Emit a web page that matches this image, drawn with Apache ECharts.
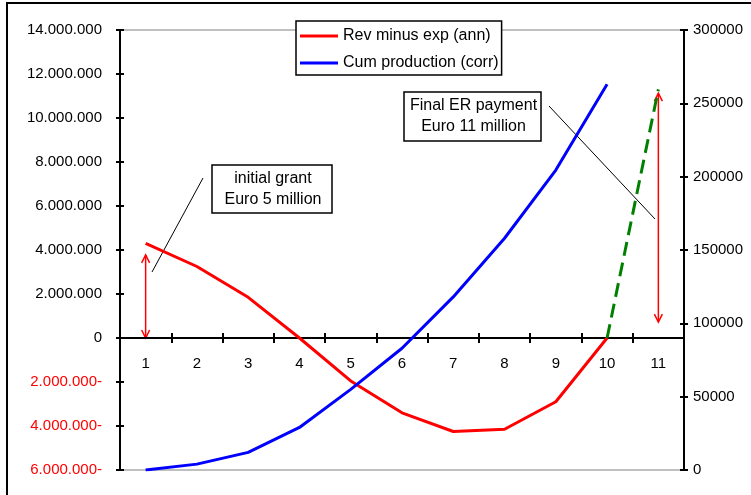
<!DOCTYPE html>
<html>
<head>
<meta charset="utf-8">
<script src="https://cdn.jsdelivr.net/npm/echarts@6/dist/echarts.min.js"></script>
<style>
html, body { margin: 0; padding: 0; background: #fff; }
#chart { width: 751px; height: 495px; }
</style>
</head>
<body>
<div id="chart"></div>
<script>
// data
var years = ['1', '2', '3', '4', '5', '6', '7', '8', '9', '10', '11'];
var revMinusExp = [4300000, 3250000, 1850000, 0, -1950000, -3400000, -4250000, -4150000, -2900000, 0, null];
var cumProduction = [0, 4000, 12000, 29000, 55000, 83000, 118000, 158000, 204500, 263000, null];
var finalPayment = [null, null, null, null, null, null, null, null, null, 0, 11300000];
var leftRange = [-6000000, 14000000, 2000000];
var rightRange = [0, 300000, 50000];
// arrows: [category, from, to] on the left axis
var grantArrow = ['1', 0, 3780000];
var paymentArrow = ['11', 720000, 11130000];

var font = '"Liberation Sans", Arial, sans-serif';

function dots(v) {
    return String(Math.abs(v)).replace(/\B(?=(\d{3})+(?!\d))/g, '.');
}

var myChart = echarts.init(document.getElementById('chart'));

var axisLine = { show: true, lineStyle: { color: '#000', width: 2 } };
var tickStyle = { color: '#000', width: 2 };

var option = {
    animation: false,
    grid: {
        left: 120, right: 67, top: 30, bottom: 25,
        outerBoundsMode: 'none',
        show: true, borderColor: '#808080', borderWidth: 1
    },
    legend: {
        data: ['Rev minus exp (ann)', 'Cum production (corr)'],
        orient: 'vertical',
        left: 296, top: 21,
        backgroundColor: '#fff',
        borderColor: '#000', borderWidth: 1.5,
        padding: [7, 3, 4, 4],
        icon: 'rect',
        itemWidth: 38, itemHeight: 3, itemGap: 11,
        textStyle: { color: '#000', fontSize: 16, fontFamily: font }
    },
    xAxis: [
        {
            // zero line with downward ticks
            type: 'category', data: years, position: 'bottom',
            axisLine: { show: true, onZero: true, onZeroAxisIndex: 0, lineStyle: { color: '#000', width: 2 } },
            axisTick: { show: true, length: 5, lineStyle: tickStyle },
            axisLabel: { show: false },
            splitLine: { show: false }
        },
        {
            // upward ticks on the zero line
            type: 'category', data: years, position: 'bottom',
            axisLine: { show: false, onZero: true, onZeroAxisIndex: 0 },
            axisTick: { show: true, inside: true, length: 5, lineStyle: tickStyle },
            axisLabel: { show: false },
            splitLine: { show: false }
        },
        {
            // category labels just under the zero line
            type: 'category', data: years, position: 'bottom',
            axisLine: { show: false, onZero: false },
            axisTick: { show: false },
            axisLabel: { margin: -114, color: '#000', fontSize: 15, fontFamily: font },
            splitLine: { show: false }
        }
    ],
    yAxis: [
        {
            type: 'value', position: 'left',
            min: leftRange[0], max: leftRange[1], interval: leftRange[2],
            axisLine: axisLine,
            axisTick: { show: true, length: 4, lineStyle: tickStyle },
            axisLabel: {
                margin: 18, color: '#000', fontSize: 15, fontFamily: font,
                formatter: function (v) {
                    return v < 0 ? '{neg|' + dots(v) + '-}' : dots(v);
                },
                rich: { neg: { color: '#ff0000', fontSize: 15, fontFamily: font } }
            },
            splitLine: { show: false }
        },
        {
            type: 'value', position: 'right',
            min: rightRange[0], max: rightRange[1], interval: rightRange[2],
            axisLine: axisLine,
            axisTick: { show: true, length: 4, lineStyle: tickStyle },
            axisLabel: {
                margin: 9, color: '#000', fontSize: 15, fontFamily: font,
                formatter: function (v) { return String(v); }
            },
            splitLine: { show: false }
        },
        {
            type: 'value', position: 'left',
            min: leftRange[0], max: leftRange[1], interval: leftRange[2],
            axisLine: { show: false },
            axisTick: { show: true, inside: true, length: 4, lineStyle: tickStyle },
            axisLabel: { show: false },
            splitLine: { show: false }
        },
        {
            type: 'value', position: 'right',
            min: rightRange[0], max: rightRange[1], interval: rightRange[2],
            axisLine: { show: false },
            axisTick: { show: true, inside: true, length: 4, lineStyle: tickStyle },
            axisLabel: { show: false },
            splitLine: { show: false }
        }
    ],
    series: [
        {
            name: 'Rev minus exp (ann)', type: 'line',
            xAxisIndex: 0, yAxisIndex: 0,
            data: revMinusExp, symbol: 'none',
            lineStyle: { color: '#ff0000', width: 3 },
            itemStyle: { color: '#ff0000' }
        },
        {
            name: 'Cum production (corr)', type: 'line',
            xAxisIndex: 0, yAxisIndex: 1,
            data: cumProduction, symbol: 'none',
            lineStyle: { color: '#0000ff', width: 3 },
            itemStyle: { color: '#0000ff' }
        },
        {
            name: 'Final payment', type: 'line',
            xAxisIndex: 0, yAxisIndex: 0,
            data: finalPayment, symbol: 'none',
            lineStyle: { color: '#008000', width: 3, type: [14, 7] },
            itemStyle: { color: '#008000' }
        }
    ]
};

myChart.setOption(option);

// annotations
function arrow(a) {
    var p0 = myChart.convertToPixel({ xAxisIndex: 0, yAxisIndex: 0 }, [a[0], a[1]]);
    var p1 = myChart.convertToPixel({ xAxisIndex: 0, yAxisIndex: 0 }, [a[0], a[2]]);
    var x = p0[0], yb = p0[1], yt = p1[1];
    var st = { stroke: '#ff0000', lineWidth: 1.5, fill: null };
    return [
        { type: 'line', shape: { x1: x, y1: yb, x2: x, y2: yt }, style: st },
        { type: 'polyline', shape: { points: [[x - 4, yt + 8], [x, yt], [x + 4, yt + 8]] }, style: st },
        { type: 'polyline', shape: { points: [[x - 4, yb - 8], [x, yb], [x + 4, yb - 8]] }, style: st }
    ];
}

function textBox(x, y, w, h, lines) {
    return [
        { type: 'rect', shape: { x: x, y: y, width: w, height: h }, style: { fill: '#fff', stroke: '#000', lineWidth: 1.5 } },
        {
            type: 'text', x: x + w / 2 + 1, y: y + h / 2,
            style: {
                text: lines.join('\n'), fill: '#000', font: '16px ' + font,
                align: 'center', verticalAlign: 'middle', lineHeight: 21
            }
        }
    ];
}

var graphics = [
    { type: 'rect', shape: { x: 7, y: 3, width: 760, height: 510 }, style: { fill: null, stroke: '#000', lineWidth: 2 }, silent: true },
    { type: 'line', shape: { x1: 203, y1: 178, x2: 152, y2: 272 }, style: { stroke: '#000', lineWidth: 1 } },
    { type: 'line', shape: { x1: 549, y1: 106, x2: 655, y2: 219 }, style: { stroke: '#000', lineWidth: 1 } }
];
graphics = graphics
    .concat(textBox(212, 165, 120, 48, ['initial grant', 'Euro 5 million']))
    .concat(textBox(404, 92, 137, 49, ['Final ER payment', 'Euro 11 million']))
    .concat(arrow(grantArrow))
    .concat(arrow(paymentArrow));

myChart.setOption({ graphic: graphics });
</script>
</body>
</html>
